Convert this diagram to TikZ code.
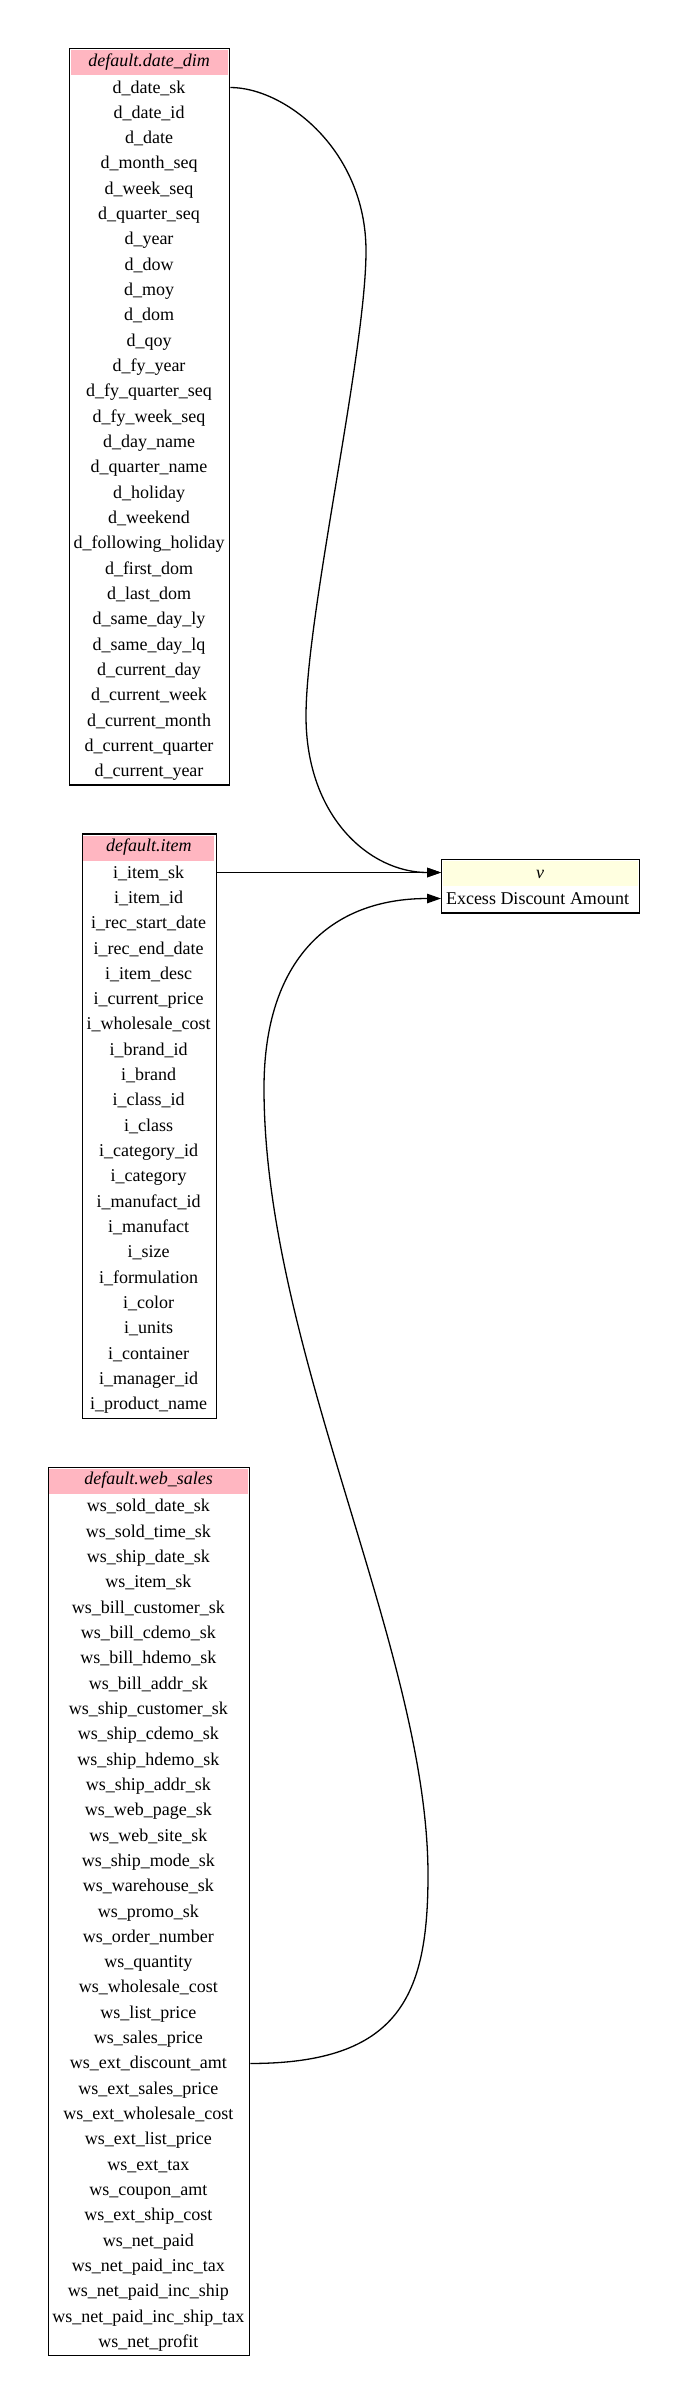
\documentclass[tikz,border=0pt]{standalone}
\usepackage{fontspec}
\setmainfont{Liberation Serif}
\usetikzlibrary{arrows.meta}
\definecolor{hdrpink}{HTML}{FFB6C1}
\definecolor{hdryellow}{HTML}{FFFFE0}
\tikzset{
  tablebox/.style={draw=black, line width=1.3pt, fill=white, inner sep=0pt, anchor=north west},
  headcell/.style={inner sep=0pt, anchor=north west, text height=12pt, text depth=5pt,
    font=\fontsize{18}{20}\selectfont\itshape},
  fieldtext/.style={inner sep=0pt, anchor=base, text height=12pt, text depth=1pt,
    font=\fontsize{18}{20}\selectfont},
  link/.style={line width=1.3pt, -{Triangle[length=14pt,width=9.5pt]}},
}
\begin{document}
\begin{tikzpicture}[x=1pt,y=-1pt]
\useasboundingbox (0,0) rectangle (687,2404);

% ---------- default.date_dim ----------
\node[tablebox, minimum width=160pt, minimum height=736.3pt] (dateBox) at (69,48) {};
\node[headcell, fill=hdrpink, minimum width=157pt, minimum height=25pt] (dateHead) at (70.5,50) {default.date\_dim};
\foreach \t [count=\i] in {d\_date\_sk, d\_date\_id, d\_date, d\_month\_seq, d\_week\_seq, d\_quarter\_seq, d\_year, d\_dow, d\_moy, d\_dom, d\_qoy, d\_fy\_year, d\_fy\_quarter\_seq, d\_fy\_week\_seq, d\_day\_name, d\_quarter\_name, d\_holiday, d\_weekend, d\_following\_holiday, d\_first\_dom, d\_last\_dom, d\_same\_day\_ly, d\_same\_day\_lq, d\_current\_day, d\_current\_week, d\_current\_month, d\_current\_quarter, d\_current\_year}
  \node[fieldtext] (dF\i) at (149,{93+25.33*(\i-1)}) {\t};

% ---------- default.item ----------
\node[tablebox, minimum width=134pt, minimum height=584.3pt] (itemBox) at (81.7,833.3) {};
\node[headcell, fill=hdrpink, minimum width=131pt, minimum height=25pt] (itemHead) at (83.2,835.3) {default.item};
\foreach \t [count=\i] in {i\_item\_sk, i\_item\_id, i\_rec\_start\_date, i\_rec\_end\_date, i\_item\_desc, i\_current\_price, i\_wholesale\_cost, i\_brand\_id, i\_brand, i\_class\_id, i\_class, i\_category\_id, i\_category, i\_manufact\_id, i\_manufact, i\_size, i\_formulation, i\_color, i\_units, i\_container, i\_manager\_id, i\_product\_name}
  \node[fieldtext] (iF\i) at (148.7,{878+25.33*(\i-1)}) {\t};

% ---------- default.web_sales ----------
\node[tablebox, minimum width=201.3pt, minimum height=888.3pt] (webBox) at (47.7,1466.7) {};
\node[headcell, fill=hdrpink, minimum width=198.3pt, minimum height=25pt] (webHead) at (49.2,1468.7) {default.web\_sales};
\foreach \t [count=\i] in {ws\_sold\_date\_sk, ws\_sold\_time\_sk, ws\_ship\_date\_sk, ws\_item\_sk, ws\_bill\_customer\_sk, ws\_bill\_cdemo\_sk, ws\_bill\_hdemo\_sk, ws\_bill\_addr\_sk, ws\_ship\_customer\_sk, ws\_ship\_cdemo\_sk, ws\_ship\_hdemo\_sk, ws\_ship\_addr\_sk, ws\_web\_page\_sk, ws\_web\_site\_sk, ws\_ship\_mode\_sk, ws\_warehouse\_sk, ws\_promo\_sk, ws\_order\_number, ws\_quantity, ws\_wholesale\_cost, ws\_list\_price, ws\_sales\_price, ws\_ext\_discount\_amt, ws\_ext\_sales\_price, ws\_ext\_wholesale\_cost, ws\_ext\_list\_price, ws\_ext\_tax, ws\_coupon\_amt, ws\_ext\_ship\_cost, ws\_net\_paid, ws\_net\_paid\_inc\_tax, ws\_net\_paid\_inc\_ship, ws\_net\_paid\_inc\_ship\_tax, ws\_net\_profit}
  \node[fieldtext] (wF\i) at (148.35,{1511.7+25.33*(\i-1)}) {\t};

% ---------- v ----------
\node[tablebox, minimum width=198pt, minimum height=53.3pt] (vBox) at (441,859) {};
\fill[hdryellow] (442.5,860.5) rectangle (637.5,885.7);
\node[fieldtext, font=\fontsize{18}{20}\selectfont\itshape] (vHead) at (540,878) {v};
\node[fieldtext] (vField) at (537.5,904) {Excess Discount Amount};

% ---------- connectors ----------
\draw[link] (dateBox.east |- dF1)
  .. controls (285,87.5) and (366,150) .. (366,251)
  .. controls (366,352) and (306,615) .. (306,716)
  .. controls (306,817) and (370,872.5) .. (vBox.west |- vHead);
\draw[link] (itemBox.east |- iF1) -- (vBox.west |- vHead);
\draw[link] (webBox.east |- wF23)
  .. controls (400,2063.5) and (428,1995) .. (428,1875)
  .. controls (428,1650) and (264,1350) .. (264,1088)
  .. controls (264,960) and (330,898.5) .. (vBox.west |- vField);
\end{tikzpicture}
\end{document}
